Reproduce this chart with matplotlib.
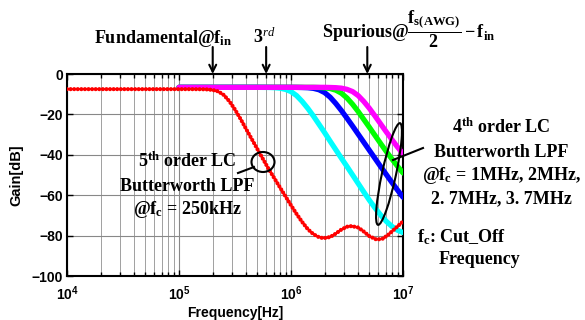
import numpy as np
import matplotlib
matplotlib.use("Agg")
import matplotlib.pyplot as plt
from matplotlib.ticker import LogLocator, FuncFormatter, FixedLocator, NullFormatter
from matplotlib.patches import Ellipse

plt.rcParams['mathtext.fontset'] = 'custom'
plt.rcParams['mathtext.rm'] = 'Liberation Serif:bold'
plt.rcParams['mathtext.bf'] = 'Liberation Serif:bold'
plt.rcParams['mathtext.it'] = 'Liberation Serif:italic'
plt.rcParams['mathtext.sf'] = 'Liberation Sans:bold'
plt.rcParams['axes.unicode_minus'] = True

# ---------------- data (frequencies as log10(Hz)) ----------------
red_exp = [4.0, 5.0, 5.1, 5.2, 5.25, 5.3, 5.35, 5.4, 5.45, 5.5, 5.55, 5.6, 5.7, 5.8,
           5.9, 6.0, 6.05, 6.1, 6.15, 6.2, 6.25, 6.29, 6.35, 6.4, 6.45, 6.5, 6.54,
           6.6, 6.65, 6.7, 6.765, 6.82, 6.87, 6.92, 6.96, 7.0]
red_gain = [-7.5, -7.5, -7.5, -7.54, -7.63, -7.9, -8.6, -10.4, -13.5, -17.6, -22.3,
            -27.3, -37.2, -47.0, -56.0, -65.0, -69.3, -73.3, -76.8, -79.3, -80.8,
            -81.3, -80.7, -79.0, -77.0, -75.6, -75.3, -76.0, -78.0, -80.3, -82.0,
            -81.5, -79.5, -77.0, -75.0, -73.0]

lc_exp = [5.0, 5.5, 5.7, 5.8, 5.85, 5.9, 5.95, 6.0, 6.05, 6.1, 6.15, 6.2, 6.25, 6.3,
          6.35, 6.4, 6.45, 6.5, 6.55, 6.6, 6.65, 6.7, 6.75, 6.8, 6.85, 6.9, 6.95, 7.0]
cyan_gain = [-6.6, -6.6, -6.6, -6.67, -6.77, -7.0, -7.6, -8.7, -10.7, -13.6, -17.0,
             -20.8, -24.9, -29.0, -33.3, -37.5, -41.7, -45.8, -50.0, -54.2, -58.4,
             -62.5, -66.3, -69.8, -72.9, -75.4, -77.3, -78.5]
blue_gain = [-6.6, -6.6, -6.6, -6.6, -6.6, -6.6, -6.6, -6.6, -6.64, -6.7, -6.8, -7.1,
             -7.8, -9.2, -11.5, -14.6, -18.1, -21.9, -25.8, -29.8, -33.8, -37.8,
             -41.8, -45.8, -49.7, -53.6, -57.4, -61.0]
green_gain = [-6.6, -6.6, -6.6, -6.6, -6.6, -6.6, -6.6, -6.6, -6.6, -6.6, -6.6, -6.6,
              -6.7, -6.85, -7.2, -8.0, -9.5, -11.9, -15.0, -18.6, -22.5, -26.4,
              -30.4, -34.4, -38.3, -42.0, -45.6, -49.0]
magenta_gain = [-6.6, -6.6, -6.6, -6.6, -6.6, -6.6, -6.6, -6.6, -6.6, -6.6, -6.6,
                -6.6, -6.6, -6.6, -6.67, -6.77, -7.0, -7.6, -8.7, -10.7, -13.6,
                -17.0, -20.8, -24.7, -28.6, -32.4, -36.1, -39.5]

arrow_freqs = [2e5, 6e5, 4.8e6]
y_ticks = [0, -20, -40, -60, -80, -100]
x_major = [1e4, 1e5, 1e6, 1e7]

# ---------------- figure ----------------
W, H = 585, 320
fig = plt.figure(figsize=(W / 100, H / 100), dpi=100)
ax = fig.add_axes([67 / W, 1 - 276 / H, (403 - 67) / W, (276 - 74) / H])

f_lc = 10 ** np.array(lc_exp)
ax.plot(f_lc, cyan_gain, color='#00ffff', lw=3.8, solid_capstyle='round', zorder=3)
ax.plot(f_lc, blue_gain, color='#0000ff', lw=3.8, solid_capstyle='round', zorder=3)
ax.plot(f_lc, green_gain, color='#00ff00', lw=3.8, solid_capstyle='round', zorder=3)
ax.plot(f_lc, magenta_gain, color='#ff00ff', lw=3.8, solid_capstyle='round', zorder=3)
ax.plot(10 ** np.array(red_exp), red_gain, color='#ff0000', lw=3.0,
        linestyle=(0, (0.01, 0.85)), dash_capstyle='round', zorder=4)

ax.set_xscale('log')
ax.set_xlim(1e4, 1e7)
ax.set_ylim(-100, 0)
ax.xaxis.set_major_locator(FixedLocator(x_major))
ax.xaxis.set_minor_locator(LogLocator(base=10, subs=range(2, 10)))
ax.xaxis.set_minor_formatter(NullFormatter())
ax.xaxis.set_major_formatter(FuncFormatter(
    lambda v, p: r'$\mathsf{10^{%d}}$' % int(round(np.log10(v)))))
ax.set_yticks(y_ticks)
ax.set_yticklabels([str(t).replace('-', '\u2212') for t in y_ticks])
ax.grid(True, which='major', color='#888888', lw=0.8)
ax.grid(True, which='minor', axis='x', color='#a0a0a0', lw=0.7)
ax.set_axisbelow(True)
ax.tick_params(which='both', direction='in', top=True, right=True, colors='black')
ax.tick_params(which='major', length=4, width=1, pad=3)
ax.tick_params(which='minor', length=3, width=1)
ax.tick_params(axis='x', which='major', pad=6)
for lab in ax.get_xticklabels() + ax.get_yticklabels():
    lab.set_fontsize(10)
    lab.set_fontfamily('Liberation Sans')
    lab.set_fontweight('bold')
for s in ax.spines.values():
    s.set_linewidth(1.5)
    s.set_color('black')
ax.set_xlabel('Frequency[Hz]', fontsize=10, fontweight='bold', family='Liberation Sans',
              labelpad=2)
ax.set_ylabel('Gain[dB]', fontsize=10.5, fontweight='bold', family='Liberation Sans',
              labelpad=6)

# arrows at top
for fx in arrow_freqs:
    ax.annotate('', xy=(fx, 1.0), xycoords=('data', 'axes fraction'),
                xytext=(fx, 1.0 + 27 / 202), textcoords=('data', 'axes fraction'),
                arrowprops=dict(arrowstyle='->,head_length=0.5,head_width=0.25',
                                lw=1.5, color='black', shrinkA=0, shrinkB=0),
                annotation_clip=False)

# overlay in pixel coordinates
ov = fig.add_axes([0, 0, 1, 1], zorder=5)
ov.set_xlim(0, W)
ov.set_ylim(H, 0)
ov.axis('off')
ov.patch.set_alpha(0)

tk = dict(family='Liberation Serif', fontweight='bold', fontsize=13, color='black',
          va='baseline')
ov.text(163, 43, r'Fundamental@f$_{\mathrm{in}}$', ha='center', **tk)
ov.text(264, 43, r'3$^{rd}$', ha='center', **tk)
ov.text(322, 38, r'Spurious@$\dfrac{\mathrm{f_{s(AWG)}}}{\mathrm{2}}-\mathrm{f_{in}}$',
        ha='left', **tk)

ov.text(187, 167, r'5$^{\mathrm{th}}$ order LC', ha='center', **tk)
ov.text(187, 191, 'Butterworth LPF', ha='center', **tk)
ov.text(187, 214, r'@f$_{\mathrm{c}}$ = 250kHz', ha='center', **tk)

ov.text(501, 133, r'4$^{\mathrm{th}}$ order LC', ha='center', **tk)
ov.text(501, 157, 'Butterworth LPF', ha='center', **tk)
ov.text(501, 180, r'@f$_{\mathrm{c}}$ = 1MHz, 2MHz,', ha='center', **tk)
ov.text(501, 203, '2. 7MHz, 3. 7MHz', ha='center', **tk)
ov.text(417, 242, r'f$_{\mathrm{c}}$: Cut_Off', ha='left', **tk)
ov.text(439, 264, 'Frequency', ha='left', **tk)

ov.add_patch(Ellipse((263, 162), 23, 20, fill=False, lw=1.5, ec='black'))
ov.plot([238, 254], [173, 167], color='black', lw=1.5)
ov.add_patch(Ellipse((389, 174), 104, 14, angle=-77.8, fill=False, lw=1.5, ec='black'))
ov.plot([393, 423], [160, 148], color='black', lw=1.5)

fig.savefig('out.png', dpi=100)
